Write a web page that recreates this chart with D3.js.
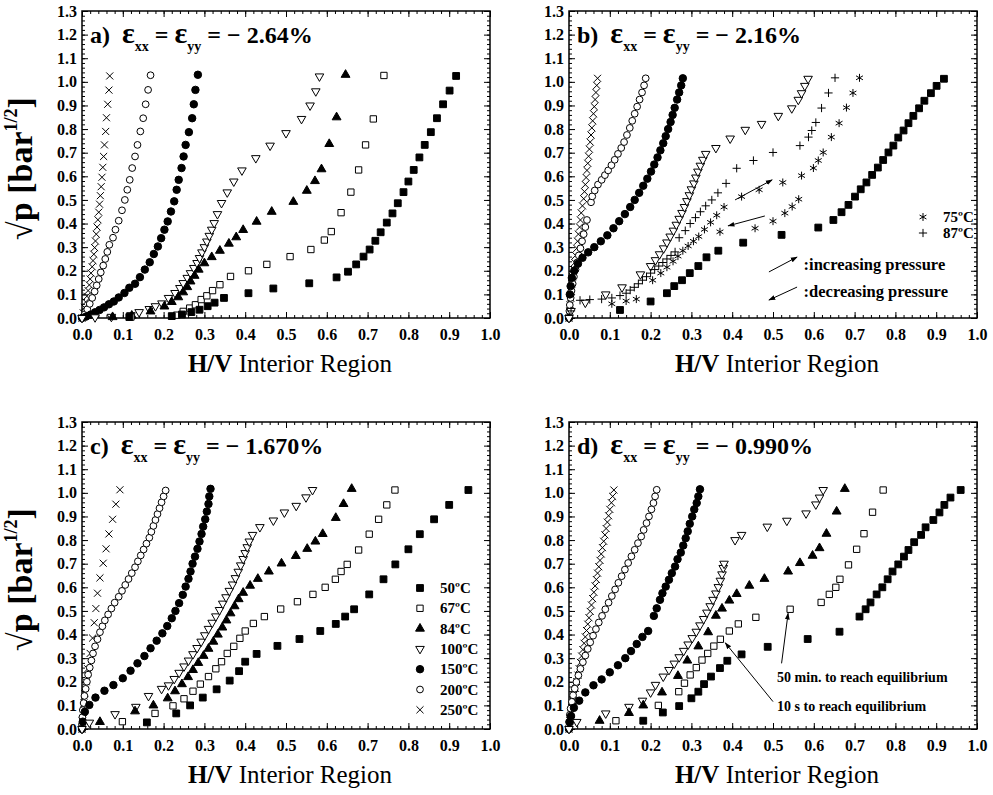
<!DOCTYPE html>
<html lang="en">
<head>
<meta charset="UTF-8">
<title>H/V isotherms</title>
<script src="https://d3js.org/d3.v7.min.js"></script>
<style>
  body { margin: 0; background: #fff; }
  svg text { font-family: "Liberation Serif", "Times New Roman", "DejaVu Serif", serif; white-space: pre; }
</style>
</head>
<body>
<div id="chart"></div>
<script>

// ---- data: [H/V, sqrt(p)] ----
var a50 = [[0.116,0.004],[0.22,0.008],[0.245,0.015],[0.268,0.025],[0.288,0.035],[0.308,0.05],[0.325,0.065],[0.348,0.085],[0.408,0.105],[0.469,0.125],[0.557,0.147],[0.624,0.172],[0.652,0.196],[0.672,0.227],[0.69,0.26],[0.705,0.29],[0.719,0.327],[0.732,0.363],[0.747,0.404],[0.761,0.443],[0.774,0.486],[0.788,0.533],[0.8,0.578],[0.813,0.627],[0.827,0.68],[0.84,0.733],[0.855,0.787],[0.87,0.846],[0.885,0.905],[0.901,0.963],[0.917,1.025]];
var a67 = [[0.12,0.004],[0.232,0.012],[0.248,0.028],[0.264,0.042],[0.278,0.056],[0.292,0.078],[0.306,0.094],[0.32,0.116],[0.338,0.141],[0.364,0.176],[0.408,0.2],[0.453,0.227],[0.51,0.26],[0.561,0.29],[0.594,0.33],[0.611,0.366],[0.635,0.446],[0.659,0.533],[0.678,0.627],[0.695,0.733],[0.714,0.843],[0.74,1.027]];
var a84 = [[0.075,0.004],[0.122,0.01],[0.168,0.028],[0.202,0.049],[0.22,0.068],[0.236,0.088],[0.248,0.109],[0.258,0.131],[0.266,0.155],[0.276,0.179],[0.286,0.205],[0.3,0.232],[0.318,0.258],[0.338,0.285],[0.36,0.315],[0.378,0.342],[0.395,0.373],[0.428,0.408],[0.465,0.45],[0.518,0.492],[0.551,0.539],[0.571,0.58],[0.587,0.63],[0.606,0.737],[0.624,0.85],[0.646,1.03]];
var a100 = [[0,0],[0.032,0.003],[0.072,0.005],[0.12,0.012],[0.14,0.025],[0.165,0.038],[0.18,0.05],[0.196,0.062],[0.212,0.085],[0.228,0.106],[0.24,0.127],[0.248,0.148],[0.258,0.17],[0.266,0.19],[0.274,0.212],[0.282,0.233],[0.288,0.254],[0.294,0.278],[0.3,0.3],[0.306,0.324],[0.312,0.348],[0.318,0.374],[0.324,0.402],[0.332,0.44],[0.342,0.487],[0.356,0.532],[0.372,0.578],[0.392,0.625],[0.426,0.677],[0.461,0.73],[0.5,0.783],[0.538,0.843],[0.559,0.9],[0.573,0.96],[0.582,1.023]];
var a150 = [[0,0],[0.01,0.006],[0.021,0.014],[0.032,0.024],[0.043,0.034],[0.054,0.045],[0.066,0.058],[0.078,0.07],[0.09,0.087],[0.104,0.106],[0.116,0.128],[0.13,0.145],[0.142,0.173],[0.154,0.205],[0.166,0.236],[0.176,0.271],[0.186,0.303],[0.194,0.338],[0.202,0.374],[0.21,0.409],[0.218,0.451],[0.226,0.494],[0.232,0.543],[0.237,0.585],[0.244,0.635],[0.249,0.684],[0.254,0.733],[0.262,0.787],[0.27,0.846],[0.274,0.905],[0.278,0.966],[0.284,1.03]];
var a200 = [[0,0],[0.007,0.016],[0.013,0.037],[0.019,0.06],[0.025,0.085],[0.031,0.112],[0.036,0.138],[0.041,0.165],[0.046,0.193],[0.052,0.222],[0.057,0.25],[0.062,0.28],[0.067,0.31],[0.076,0.34],[0.082,0.374],[0.09,0.412],[0.098,0.456],[0.105,0.5],[0.111,0.543],[0.117,0.585],[0.123,0.635],[0.13,0.684],[0.136,0.733],[0.143,0.79],[0.15,0.846],[0.156,0.905],[0.162,0.966],[0.168,1.028]];
var a250 = [[0,0],[0.003,0.022],[0.006,0.045],[0.009,0.068],[0.012,0.092],[0.015,0.116],[0.018,0.14],[0.02,0.165],[0.022,0.19],[0.025,0.217],[0.027,0.243],[0.029,0.27],[0.031,0.298],[0.033,0.326],[0.035,0.355],[0.037,0.385],[0.039,0.416],[0.041,0.448],[0.043,0.482],[0.045,0.518],[0.047,0.556],[0.049,0.596],[0.051,0.638],[0.053,0.684],[0.055,0.733],[0.058,0.79],[0.06,0.848],[0.063,0.905],[0.066,0.965],[0.068,1.025]];

var b50 = [[0.125,0.034],[0.2,0.07],[0.24,0.105],[0.258,0.135],[0.277,0.16],[0.296,0.19],[0.317,0.22],[0.337,0.257],[0.366,0.285],[0.427,0.319],[0.521,0.352],[0.611,0.383],[0.648,0.415],[0.668,0.448],[0.685,0.479],[0.701,0.514],[0.715,0.545],[0.729,0.574],[0.743,0.606],[0.757,0.637],[0.77,0.669],[0.783,0.701],[0.795,0.73],[0.807,0.764],[0.82,0.794],[0.832,0.825],[0.844,0.856],[0.858,0.888],[0.871,0.92],[0.887,0.952],[0.901,0.983],[0.919,1.013]];
var b75 = [[0.105,0.06],[0.14,0.072],[0.165,0.08],[0.205,0.16],[0.225,0.19],[0.24,0.215],[0.255,0.24],[0.267,0.262],[0.279,0.285],[0.292,0.305],[0.305,0.325],[0.318,0.345],[0.332,0.375],[0.347,0.405],[0.362,0.435],[0.38,0.47],[0.423,0.514],[0.466,0.543],[0.524,0.574],[0.57,0.603],[0.599,0.635],[0.611,0.667],[0.623,0.701],[0.643,0.766],[0.662,0.825],[0.68,0.891],[0.696,0.953],[0.712,1.017],[0.563,0.503],[0.547,0.472],[0.529,0.444],[0.5,0.41],[0.456,0.38],[0.37,0.365]];
var b87 = [[0.005,0.03],[0.027,0.075],[0.051,0.078],[0.08,0.08],[0.105,0.085],[0.125,0.095],[0.14,0.105],[0.15,0.118],[0.16,0.13],[0.17,0.145],[0.18,0.16],[0.19,0.175],[0.2,0.19],[0.21,0.205],[0.22,0.22],[0.23,0.235],[0.24,0.25],[0.25,0.265],[0.26,0.28],[0.27,0.34],[0.285,0.37],[0.297,0.4],[0.31,0.425],[0.322,0.45],[0.335,0.475],[0.35,0.5],[0.365,0.53],[0.385,0.57],[0.411,0.634],[0.452,0.667],[0.5,0.701],[0.566,0.73],[0.587,0.766],[0.595,0.794],[0.605,0.828],[0.619,0.889],[0.636,0.953],[0.652,1.017]];
var b100 = [[0,0],[0.005,0.03],[0.04,0.065],[0.09,0.1],[0.13,0.13],[0.175,0.185],[0.2,0.22],[0.212,0.245],[0.222,0.27],[0.232,0.295],[0.24,0.32],[0.248,0.345],[0.256,0.37],[0.263,0.395],[0.27,0.42],[0.277,0.445],[0.283,0.47],[0.289,0.495],[0.295,0.52],[0.3,0.545],[0.306,0.57],[0.311,0.595],[0.316,0.62],[0.322,0.645],[0.328,0.67],[0.335,0.695],[0.36,0.72],[0.395,0.76],[0.432,0.797],[0.472,0.822],[0.513,0.856],[0.546,0.888],[0.562,0.924],[0.57,0.952],[0.578,0.983],[0.586,1.013]];
var b150 = [[0,0],[0.002,0.1],[0.004,0.135],[0.007,0.17],[0.013,0.2],[0.022,0.23],[0.033,0.255],[0.047,0.278],[0.062,0.3],[0.078,0.325],[0.094,0.35],[0.109,0.38],[0.123,0.41],[0.137,0.44],[0.15,0.47],[0.161,0.5],[0.172,0.53],[0.182,0.56],[0.192,0.59],[0.201,0.62],[0.209,0.65],[0.217,0.68],[0.224,0.71],[0.231,0.74],[0.237,0.77],[0.243,0.8],[0.249,0.83],[0.254,0.86],[0.259,0.89],[0.265,0.925],[0.27,0.955],[0.275,0.985],[0.279,1.015]];
var b200 = [[0,0],[0.001,0.03],[0.002,0.055],[0.004,0.085],[0.006,0.115],[0.009,0.145],[0.012,0.175],[0.016,0.205],[0.02,0.235],[0.024,0.265],[0.028,0.295],[0.032,0.325],[0.036,0.355],[0.04,0.385],[0.044,0.415],[0.054,0.49],[0.057,0.515],[0.063,0.54],[0.071,0.565],[0.08,0.585],[0.088,0.605],[0.096,0.625],[0.104,0.647],[0.112,0.67],[0.12,0.695],[0.128,0.72],[0.135,0.745],[0.142,0.775],[0.149,0.805],[0.155,0.835],[0.161,0.865],[0.167,0.895],[0.173,0.925],[0.179,0.955],[0.184,0.985],[0.188,1.015]];
var b250 = [[0,0],[0.002,0.03],[0.003,0.055],[0.004,0.085],[0.005,0.115],[0.007,0.145],[0.009,0.175],[0.012,0.205],[0.014,0.235],[0.016,0.265],[0.019,0.295],[0.021,0.325],[0.023,0.355],[0.026,0.385],[0.028,0.415],[0.03,0.445],[0.033,0.475],[0.036,0.505],[0.038,0.535],[0.04,0.565],[0.042,0.595],[0.044,0.625],[0.046,0.655],[0.048,0.685],[0.05,0.715],[0.052,0.745],[0.054,0.775],[0.056,0.805],[0.058,0.835],[0.06,0.865],[0.062,0.895],[0.064,0.925],[0.066,0.955],[0.068,0.985],[0.07,1.015]];

var c50 = [[0.159,0.028],[0.231,0.066],[0.265,0.1],[0.296,0.133],[0.33,0.168],[0.362,0.205],[0.385,0.245],[0.4,0.285],[0.428,0.318],[0.479,0.352],[0.533,0.381],[0.584,0.415],[0.622,0.445],[0.645,0.476],[0.667,0.507],[0.704,0.57],[0.739,0.634],[0.768,0.697],[0.8,0.761],[0.828,0.825],[0.863,0.888],[0.9,0.949],[0.947,1.012]];
var c67 = [[0.099,0.031],[0.179,0.066],[0.223,0.098],[0.25,0.128],[0.272,0.16],[0.29,0.19],[0.31,0.222],[0.328,0.255],[0.342,0.285],[0.356,0.32],[0.372,0.35],[0.387,0.384],[0.4,0.415],[0.42,0.447],[0.447,0.476],[0.487,0.508],[0.528,0.539],[0.566,0.57],[0.596,0.6],[0.621,0.634],[0.635,0.667],[0.65,0.697],[0.678,0.758],[0.704,0.825],[0.727,0.888],[0.747,0.949],[0.767,1.012]];
var c84 = [[0.044,0.03],[0.13,0.075],[0.175,0.1],[0.21,0.13],[0.228,0.16],[0.245,0.19],[0.26,0.22],[0.272,0.25],[0.285,0.28],[0.298,0.31],[0.31,0.34],[0.322,0.37],[0.333,0.4],[0.344,0.43],[0.354,0.46],[0.364,0.49],[0.374,0.52],[0.384,0.55],[0.395,0.577],[0.412,0.607],[0.431,0.636],[0.458,0.667],[0.489,0.701],[0.524,0.733],[0.552,0.763],[0.572,0.794],[0.59,0.826],[0.622,0.894],[0.641,0.953],[0.661,1.017]];
var c100 = [[0,0],[0.018,0.027],[0.081,0.063],[0.132,0.094],[0.163,0.14],[0.195,0.17],[0.212,0.185],[0.226,0.212],[0.238,0.238],[0.25,0.265],[0.261,0.29],[0.272,0.317],[0.282,0.343],[0.292,0.37],[0.301,0.397],[0.31,0.424],[0.319,0.45],[0.328,0.477],[0.337,0.504],[0.345,0.531],[0.353,0.558],[0.361,0.585],[0.369,0.612],[0.376,0.639],[0.383,0.666],[0.389,0.693],[0.395,0.72],[0.4,0.745],[0.405,0.77],[0.41,0.794],[0.418,0.822],[0.436,0.855],[0.469,0.883],[0.496,0.917],[0.525,0.945],[0.549,0.981],[0.565,1.012]];
var c150 = [[0,0],[0.002,0.031],[0.007,0.073],[0.018,0.102],[0.033,0.133],[0.055,0.162],[0.077,0.186],[0.1,0.215],[0.119,0.247],[0.136,0.278],[0.153,0.309],[0.168,0.342],[0.183,0.374],[0.197,0.405],[0.209,0.436],[0.22,0.469],[0.229,0.5],[0.238,0.533],[0.247,0.568],[0.254,0.603],[0.261,0.636],[0.266,0.667],[0.271,0.7],[0.277,0.73],[0.283,0.763],[0.288,0.794],[0.293,0.826],[0.297,0.857],[0.302,0.888],[0.306,0.921],[0.31,0.953],[0.312,0.985],[0.315,1.017]];
var c200 = [[0,0],[0,0.02],[0.001,0.05],[0.002,0.08],[0.004,0.11],[0.006,0.14],[0.009,0.17],[0.012,0.2],[0.015,0.23],[0.019,0.26],[0.023,0.29],[0.027,0.32],[0.032,0.35],[0.038,0.38],[0.044,0.41],[0.05,0.435],[0.056,0.46],[0.064,0.485],[0.072,0.51],[0.08,0.535],[0.09,0.56],[0.098,0.585],[0.106,0.61],[0.114,0.635],[0.122,0.66],[0.13,0.685],[0.137,0.71],[0.144,0.735],[0.151,0.76],[0.158,0.785],[0.165,0.81],[0.17,0.835],[0.175,0.86],[0.18,0.885],[0.185,0.91],[0.19,0.935],[0.195,0.96],[0.2,0.985],[0.205,1.01]];
var c250 = [[0,0],[0.001,0.035],[0.003,0.07],[0.005,0.11],[0.007,0.15],[0.01,0.2],[0.014,0.255],[0.02,0.32],[0.026,0.385],[0.03,0.45],[0.034,0.51],[0.038,0.575],[0.044,0.64],[0.052,0.702],[0.059,0.763],[0.066,0.826],[0.075,0.888],[0.083,0.952],[0.093,1.013]];

var d50 = [[0.182,0.035],[0.23,0.07],[0.27,0.097],[0.3,0.13],[0.317,0.158],[0.331,0.19],[0.348,0.222],[0.37,0.258],[0.388,0.289],[0.423,0.316],[0.487,0.348],[0.585,0.381],[0.663,0.412],[0.712,0.476],[0.727,0.507],[0.739,0.536],[0.754,0.57],[0.768,0.6],[0.781,0.634],[0.793,0.667],[0.807,0.697],[0.821,0.73],[0.832,0.758],[0.846,0.791],[0.863,0.822],[0.874,0.854],[0.893,0.885],[0.908,0.917],[0.92,0.949],[0.935,0.98],[0.96,1.012]];
var d67 = [[0.115,0.035],[0.219,0.1],[0.269,0.158],[0.283,0.194],[0.297,0.229],[0.312,0.26],[0.326,0.292],[0.34,0.32],[0.355,0.351],[0.371,0.38],[0.393,0.415],[0.415,0.445],[0.458,0.473],[0.542,0.507],[0.618,0.536],[0.638,0.57],[0.654,0.6],[0.664,0.634],[0.685,0.695],[0.705,0.761],[0.723,0.827],[0.744,0.918],[0.77,1.012]];
var d84 = [[0.075,0.035],[0.147,0.068],[0.182,0.1],[0.228,0.155],[0.267,0.225],[0.29,0.29],[0.317,0.35],[0.341,0.41],[0.36,0.48],[0.375,0.51],[0.393,0.544],[0.411,0.572],[0.442,0.607],[0.479,0.636],[0.537,0.667],[0.566,0.703],[0.597,0.734],[0.614,0.766],[0.631,0.827],[0.656,0.921],[0.676,1.017]];
var d100 = [[0,0],[0.019,0.03],[0.09,0.066],[0.147,0.094],[0.18,0.12],[0.2,0.155],[0.212,0.187],[0.231,0.222],[0.245,0.25],[0.258,0.277],[0.27,0.304],[0.281,0.331],[0.292,0.358],[0.302,0.385],[0.312,0.412],[0.321,0.439],[0.33,0.466],[0.338,0.493],[0.346,0.52],[0.353,0.547],[0.36,0.574],[0.366,0.601],[0.371,0.628],[0.375,0.655],[0.378,0.682],[0.38,0.7],[0.407,0.8],[0.423,0.822],[0.486,0.857],[0.534,0.882],[0.581,0.913],[0.605,0.951],[0.614,0.98],[0.623,1.012]];
var d150 = [[0,0],[0.002,0.03],[0.005,0.055],[0.012,0.09],[0.025,0.12],[0.04,0.155],[0.06,0.185],[0.08,0.21],[0.1,0.24],[0.12,0.27],[0.138,0.3],[0.152,0.33],[0.166,0.36],[0.18,0.39],[0.194,0.415],[0.208,0.479],[0.215,0.511],[0.223,0.547],[0.229,0.575],[0.237,0.603],[0.245,0.632],[0.252,0.66],[0.26,0.688],[0.266,0.719],[0.274,0.747],[0.28,0.777],[0.286,0.808],[0.291,0.837],[0.296,0.869],[0.302,0.9],[0.307,0.93],[0.313,0.957],[0.317,0.985],[0.321,1.015]];
var d200 = [[0,0],[0,0.03],[0.002,0.06],[0.004,0.087],[0.007,0.115],[0.01,0.143],[0.014,0.171],[0.018,0.199],[0.023,0.227],[0.028,0.255],[0.034,0.283],[0.04,0.311],[0.046,0.339],[0.052,0.367],[0.059,0.395],[0.066,0.423],[0.073,0.451],[0.081,0.479],[0.089,0.507],[0.097,0.535],[0.105,0.563],[0.113,0.591],[0.121,0.619],[0.129,0.647],[0.137,0.675],[0.145,0.703],[0.153,0.731],[0.161,0.759],[0.169,0.787],[0.177,0.815],[0.183,0.843],[0.19,0.872],[0.196,0.9],[0.202,0.93],[0.207,0.957],[0.211,0.985],[0.215,1.013]];
var d250 = [[0,0],[0.002,0.035],[0.005,0.063],[0.007,0.09],[0.01,0.118],[0.013,0.145],[0.016,0.172],[0.019,0.2],[0.022,0.228],[0.025,0.255],[0.028,0.282],[0.031,0.309],[0.034,0.336],[0.037,0.363],[0.04,0.39],[0.043,0.417],[0.046,0.444],[0.049,0.471],[0.052,0.498],[0.055,0.525],[0.058,0.552],[0.061,0.579],[0.064,0.606],[0.067,0.633],[0.07,0.66],[0.073,0.687],[0.076,0.714],[0.079,0.741],[0.082,0.768],[0.085,0.795],[0.088,0.822],[0.091,0.849],[0.094,0.876],[0.097,0.903],[0.1,0.93],[0.104,0.958],[0.107,0.985],[0.11,1.012]];

var xTicks = [0, 0.1, 0.2, 0.3, 0.4, 0.5, 0.6, 0.7, 0.8, 0.9, 1.0];
var yTicks = [0, 0.1, 0.2, 0.3, 0.4, 0.5, 0.6, 0.7, 0.8, 0.9, 1.0, 1.1, 1.2, 1.3];
var legendTemps = ["50", "67", "84", "100", "150", "200", "250"];
var strains = ["2.64", "2.16", "1.670", "0.990"];

// ---- layout ----
var W = 993, H = 795;
var pw = 408, ph = 307;
var font = "Liberation Serif";

var svg = d3.select("#chart").append("svg")
    .attr("width", W)
    .attr("height", H);

var defs = svg.append("defs");
defs.append("marker")
    .attr("id", "head")
    .attr("viewBox", "0 0 10 10")
    .attr("refX", 9).attr("refY", 5)
    .attr("markerWidth", 7).attr("markerHeight", 7)
    .attr("orient", "auto")
    .append("path")
    .attr("d", "M0,1.5 L10,5 L0,8.5 Z")
    .attr("fill", "#000");

var x = d3.scaleLinear().domain([0, 1]).range([0, pw]);
var y = d3.scaleLinear().domain([0, 1.3]).range([ph, 0]);

// marker styles per temperature
var styles = {
    "50":  {type: d3.symbolSquare, size: 46, fill: "#000"},
    "67":  {type: d3.symbolSquare, size: 40, fill: "#fff"},
    "75":  {type: d3.symbolAsterisk || d3.symbolCross, size: 44, fill: "none"},
    "84":  {type: d3.symbolTriangle, size: 34, fill: "#000"},
    "87":  {type: d3.symbolPlus || d3.symbolCross, size: 24, fill: "none"},
    "100": {type: d3.symbolTriangle, size: 32, fill: "#fff", flip: true},
    "150": {type: d3.symbolCircle, size: 44, fill: "#000"},
    "200": {type: d3.symbolCircle, size: 36, fill: "#fff"},
    "250": {type: d3.symbolTimes || d3.symbolCross, size: 34, fill: "none"}
};

function symbolPath(t) {
    var s = styles[t];
    return d3.symbol().type(s.type).size(s.size)();
}

function drawMark(g, t) {
    var s = styles[t];
    g.attr("d", symbolPath(t))
        .attr("fill", s.fill)
        .attr("stroke", "#000")
        .attr("stroke-width", 1);
}

var panels = [
    {key: "a", left: 82, top: 11, ylab: true,
        series: [["250", a250], ["200", a200], ["150", a150], ["100", a100], ["84", a84], ["67", a67], ["50", a50]]},
    {key: "b", left: 569, top: 11, ylab: false,
        series: [["250", b250], ["200", b200], ["150", b150], ["100", b100], ["87", b87], ["75", b75], ["50", b50]]},
    {key: "c", left: 82, top: 422, ylab: true,
        series: [["250", c250], ["200", c200], ["150", c150], ["100", c100], ["84", c84], ["67", c67], ["50", c50]]},
    {key: "d", left: 569, top: 422, ylab: false,
        series: [["250", d250], ["200", d200], ["150", d150], ["100", d100], ["84", d84], ["67", d67], ["50", d50]]}
];

var minorX = d3.range(0, 51).map(function (i) { return i / 50; });
var minorY = d3.range(0, 66).map(function (i) { return i / 50; });
var fmt = d3.format(".1f");

panels.forEach(function (p, pi) {
    var g = svg.append("g").attr("transform", "translate(" + p.left + "," + p.top + ")");

    // axes: ticks point inward on all four sides
    function styleAxis(sel) {
        sel.select(".domain").remove();
        sel.attr("font-family", font).attr("font-size", 16).attr("font-weight", "bold");
        sel.selectAll(".tick line").attr("stroke-width", 1);
    }
    g.append("g").attr("transform", "translate(0," + ph + ")")
        .call(d3.axisBottom(x).tickValues(xTicks).tickSize(-6).tickPadding(11).tickFormat(fmt))
        .call(styleAxis);
    g.append("g").attr("transform", "translate(0," + ph + ")")
        .call(d3.axisBottom(x).tickValues(minorX).tickSize(-3).tickFormat(""))
        .call(styleAxis);
    g.append("g")
        .call(d3.axisTop(x).tickValues(xTicks).tickSize(-6).tickFormat(""))
        .call(styleAxis);
    g.append("g")
        .call(d3.axisTop(x).tickValues(minorX).tickSize(-3).tickFormat(""))
        .call(styleAxis);
    g.append("g")
        .call(d3.axisLeft(y).tickValues(yTicks).tickSize(-6).tickPadding(5).tickFormat(fmt))
        .call(styleAxis);
    g.append("g")
        .call(d3.axisLeft(y).tickValues(minorY).tickSize(-3).tickFormat(""))
        .call(styleAxis);
    g.append("g").attr("transform", "translate(" + pw + ",0)")
        .call(d3.axisRight(y).tickValues(yTicks).tickSize(-6).tickFormat(""))
        .call(styleAxis);
    g.append("g").attr("transform", "translate(" + pw + ",0)")
        .call(d3.axisRight(y).tickValues(minorY).tickSize(-3).tickFormat(""))
        .call(styleAxis);

    g.append("rect")
        .attr("width", pw).attr("height", ph)
        .attr("fill", "none").attr("stroke", "#000").attr("stroke-width", 1.5);

    // data points
    p.series.forEach(function (s) {
        var st = styles[s[0]];
        g.append("g").selectAll("path")
            .data(s[1])
            .join("path")
            .attr("transform", function (d) {
                return "translate(" + x(d[0]) + "," + y(d[1]) + ")" + (st.flip ? " rotate(180)" : "");
            })
            .each(function () { drawMark(d3.select(this), s[0]); });
    });

    // panel title
    var t = g.append("text")
        .attr("x", 8).attr("y", 32)
        .attr("font-size", 24).attr("font-weight", "bold");
    t.append("tspan").text(p.key + ")  ");
    t.append("tspan").attr("font-size", 30).text("ε");
    t.append("tspan").attr("font-size", 14).attr("dy", 8).text("xx");
    t.append("tspan").attr("dy", -8).text(" = ");
    t.append("tspan").attr("font-size", 30).text("ε");
    t.append("tspan").attr("font-size", 14).attr("dy", 8).text("yy");
    t.append("tspan").attr("dy", -8).text(" = − " + strains[pi] + "%");

    // x axis title
    var xt = g.append("text")
        .attr("x", pw / 2 + 4).attr("y", ph + 54)
        .attr("text-anchor", "middle")
        .attr("font-size", 25);
    xt.append("tspan").attr("font-weight", "bold").text("H/V");
    xt.append("tspan").text(" Interior Region");

    // y axis title
    if (p.ylab) {
        var yt = g.append("text")
            .attr("transform", "translate(-50," + (ph / 2 + 4) + ") rotate(-90)")
            .attr("text-anchor", "middle")
            .attr("font-size", 34).attr("font-weight", "bold");
        yt.append("tspan").text("√p [bar");
        yt.append("tspan").attr("font-size", 18).attr("dy", -15).text("1/2");
        yt.append("tspan").attr("dy", 15).text("]");
    }

    p.g = g;
});

// ---- legend of panel c ----
var gc = panels[2].g;
legendTemps.forEach(function (tmp, i) {
    var st = styles[tmp];
    var ly = 166 + i * 20.3;
    gc.append("path")
        .attr("transform", "translate(338," + ly + ")" + (st.flip ? " rotate(180)" : ""))
        .call(function (sel) { drawMark(sel, tmp); });
    gc.append("text")
        .attr("x", 358).attr("y", ly + 5)
        .attr("font-size", 15).attr("font-weight", "bold")
        .text(tmp + "ºC");
});

// ---- legend and arrows of panel b ----
var gb = panels[1].g;
[["75", 206], ["87", 222]].forEach(function (r) {
    gb.append("path")
        .attr("transform", "translate(354," + r[1] + ")")
        .call(function (sel) { drawMark(sel, r[0]); });
    gb.append("text")
        .attr("x", 374).attr("y", r[1] + 5)
        .attr("font-size", 15).attr("font-weight", "bold")
        .text(r[0] + "ºC");
});

function arrow(g, x1, y1, x2, y2) {
    g.append("line")
        .attr("x1", x(x1)).attr("y1", y(y1))
        .attr("x2", x(x2)).attr("y2", y(y2))
        .attr("stroke", "#000").attr("stroke-width", 1)
        .attr("marker-end", "url(#head)");
}
arrow(gb, 0.407, 0.50, 0.498, 0.585);
arrow(gb, 0.48, 0.432, 0.39, 0.39);
arrow(gb, 0.49, 0.195, 0.559, 0.258);
arrow(gb, 0.559, 0.131, 0.49, 0.076);
gb.append("text").attr("x", x(0.575)).attr("y", y(0.205))
    .attr("font-size", 16.5).attr("font-weight", "bold").text(":increasing pressure");
gb.append("text").attr("x", x(0.575)).attr("y", y(0.09))
    .attr("font-size", 16.5).attr("font-weight", "bold").text(":decreasing pressure");

// ---- annotations of panel d ----
var gd = panels[3].g;
arrow(gd, 0.521, 0.278, 0.537, 0.49);
arrow(gd, 0.50, 0.116, 0.383, 0.365);
gd.append("text").attr("x", x(0.51)).attr("y", y(0.2))
    .attr("font-size", 14).attr("font-weight", "bold").text("50 min. to reach equilibrium");
gd.append("text").attr("x", x(0.51)).attr("y", y(0.075))
    .attr("font-size", 14).attr("font-weight", "bold").text("10 s to reach equilibrium");

</script>
</body>
</html>
